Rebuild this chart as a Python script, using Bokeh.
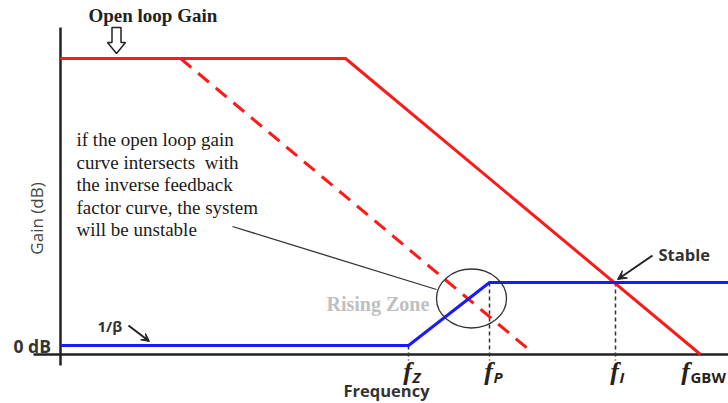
from bokeh.plotting import figure
from bokeh.models import Range1d, Arrow, VeeHead, ColumnDataSource
from bokeh.core.properties import value
from bokeh.embed import file_html
from bokeh.resources import INLINE

# ---------------- data (diagram units: x = log-frequency position, y = gain) ----------------
open_loop_x = [0, 285, 640]          # flat until dominant pole, then roll-off to fGBW
open_loop_y = [287, 287, -9]
shifted_loop_x = [120, 467]          # open loop gain with lower pole (dashed)
shifted_loop_y = [287, -3]
inv_beta_x = [0, 348, 429, 668]      # 1/beta curve
inv_beta_y = [0, 0, 63, 63]
f_names = ["Z", "P", "I", "GBW"]
f_pos = [348, 429, 555, 640]
f_level = [0, 63, 63, -9]            # curve level at each marked frequency
axis_y = -9
rising_zone_center = (411, 47)
rising_zone_size = (70, 59)

note_lines = ["if the open loop gain",
              "curve intersects \u00a0with",
              "the inverse feedback",
              "factor curve, the system",
              "will be unstable"]

# ---------------- figure ----------------
p = figure(width=728, height=403, x_range=Range1d(-60, 668), y_range=Range1d(-58, 345),
           output_backend="svg", toolbar_location=None, min_border=0)
p.axis.visible = False
p.grid.visible = False
p.outline_line_color = None
p.background_fill_color = "white"
p.border_fill_color = "white"

AX = "#222222"
# axes
p.line([-27, 668], [axis_y, axis_y], line_color=AX, line_width=2.5)
p.line([0, 0], [-20, 318], line_color=AX, line_width=2.5)

# tick dashed verticals
for xf, lv in zip(f_pos[:3], f_level[:3]):
    p.line([xf, xf], [lv, axis_y - 6], line_color="#333333", line_width=1.5, line_dash="4 3")

# curves
p.line(shifted_loop_x, shifted_loop_y, line_color="#ff1a1a", line_width=3, line_dash="14 9")
p.line(open_loop_x, open_loop_y, line_color="#ff1a1a", line_width=3)
p.line(inv_beta_x, inv_beta_y, line_color="#1a1aff", line_width=3)

# rising zone ellipse
p.ellipse(x=[rising_zone_center[0]], y=[rising_zone_center[1]], width=rising_zone_size[0],
          height=rising_zone_size[1], fill_color=None, line_color="#333333", line_width=1.3)
# pointer line from note to ellipse
p.line([172, rising_zone_center[0] - 35], [119, 56], line_color="#333333", line_width=1.3)

# arrows
p.add_layout(Arrow(end=VeeHead(size=9, fill_color="#222222", line_color="#222222"),
                   x_start=592, y_start=90, x_end=557, y_end=66,
                   line_color="#222222", line_width=2))
p.add_layout(Arrow(end=VeeHead(size=8, fill_color="#222222", line_color="#222222"),
                   x_start=68, y_start=20, x_end=89, y_end=4,
                   line_color="#222222", line_width=2))

# hollow block arrow under "Open loop Gain"
cx, top, tip, neck = 56, 318, 292, 303
p.patch([cx - 4.5, cx + 4.5, cx + 4.5, cx + 9, cx, cx - 9, cx - 4.5],
        [top, top, neck, neck, tip, neck, neck],
        fill_color="white", line_color="#222222", line_width=1.5)

SERIF = value("Liberation Serif")
SANS = value("Open Sans")

p.text(x=[28], y=[330], text=["Open loop Gain"], text_font=SERIF, text_font_style="bold",
       text_font_size="19px", text_color="#222222", text_baseline="middle", text_align="left")

src = ColumnDataSource(dict(x=[16] * len(note_lines),
                            y=[206 - 22.5 * i for i in range(len(note_lines))],
                            t=note_lines))
p.text(x="x", y="y", text="t", source=src, text_font=SERIF, text_font_size="19px",
       text_color="#1a1a1a", text_baseline="middle", text_align="left")

p.text(x=[266], y=[42], text=["Rising Zone"], text_font=SERIF, text_font_style="bold",
       text_font_size="20px", text_color="#c0c0c0", text_baseline="middle", text_align="left")

p.text(x=[598], y=[91], text=["Stable"], text_font=SANS, text_font_style="bold",
       text_font_size="16.5px", text_color="#333333", text_baseline="middle", text_align="left")

p.text(x=[-47], y=[0], text=["0 dB"], text_font=SANS, text_font_style="bold",
       text_font_size="17.5px", text_color="#333333", text_baseline="middle", text_align="left")

p.text(x=[37], y=[20], text=["1/β"], text_font=SANS, text_font_style="bold",
       text_font_size="15px", text_color="#333333", text_baseline="middle", text_align="left")

p.text(x=[283], y=[-45], text=["Frequency"], text_font=SANS, text_font_style="bold",
       text_font_size="16.5px", text_color="#333333", text_baseline="middle", text_align="left")

p.text(x=[-24], y=[127], text=["Gain (dB)"], text_font=SANS, text_font_size="17px",
       text_color="#444444", text_baseline="middle", text_align="center", angle=1.5708)

# frequency labels
for name, xf in zip(f_names, f_pos):
    shift = -15 if name == "GBW" else -1
    fx = xf + shift
    p.text(x=[fx], y=[-26], text=["f"], text_font=SERIF, text_font_style="bold italic",
           text_font_size="26px", text_color="#2a1f1a", text_baseline="middle", text_align="center")
    p.text(x=[fx + 5], y=[-31], text=[name], text_font=SANS,
           text_font_style="bold" if name == "GBW" else "bold italic",
           text_font_size="15px", text_color="#2a1f1a", text_baseline="middle", text_align="left")

open("out.html", "w").write(file_html(p, INLINE))
